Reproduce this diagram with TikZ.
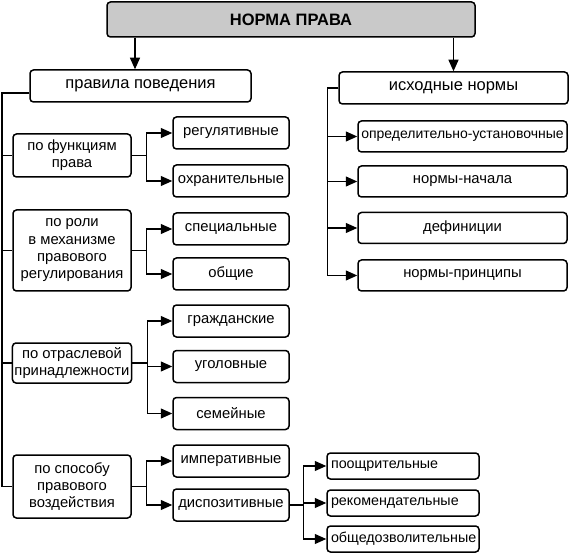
\documentclass[tikz,border=0pt]{standalone}
\usepackage{fontspec}
\setmainfont{Liberation Sans}
\usetikzlibrary{arrows.meta}
\begin{document}
\begin{tikzpicture}[x=1pt,y=-1pt,
  box/.style={draw, line width=1.5pt, rounded corners=3.5pt, inner sep=2pt, align=center,
    font=\fontsize{14.8}{17.3}\selectfont},
  topbox/.style={box, fill=black!21, font=\bfseries\fontsize{16.5}{19}\selectfont,
    minimum width=368pt, minimum height=35pt},
  headbox/.style={box, font=\fontsize{16.5}{19}\selectfont, minimum height=32pt},
  catbox/.style={box, minimum width=118pt},
  leafbox/.style={box, minimum width=116pt, minimum height=32pt},
  rleaf/.style={box, minimum width=209pt, minimum height=31pt},
  bleaf/.style={box, text width=144pt, inner xsep=4pt, align=left, minimum height=26pt,
    font=\fontsize{14.3}{17}\selectfont},
  conn/.style={line width=1.2pt},
  arr/.style={conn, -{Triangle[length=11.5pt,width=10pt]}}
]
\useasboundingbox (0,0) rectangle (570,553);

% top
\node[topbox] (top) at (291,19.5) {НОРМА ПРАВА};
\node[headbox, minimum width=221pt] (pp) at (140.5,86) {правила поведения};
\node[headbox, minimum width=229pt] (ish) at (453.5,88) {исходные нормы};

% left categories
\node[catbox, minimum height=43pt] (f1) at (72,155.5) {по функциям\\права};
\node[catbox, minimum height=81pt] (f2) at (72,250.5) {по роли\\в механизме\\правового\\регулирования};
\node[catbox, minimum height=40pt] (f3) at (72,363) {по отраслевой\\принадлежности};
\node[catbox, minimum height=63pt] (f4) at (72,486.5) {по способу\\правового\\воздействия};

% left leaves
\node[leafbox] (reg) at (231,133) {регулятивные};
\node[leafbox] (ohr) at (231,181) {охранительные};
\node[leafbox] (spec) at (231,229) {специальные};
\node[leafbox] (obsh) at (231,274) {общие};
\node[leafbox] (grazh) at (231,321) {гражданские};
\node[leafbox] (ugol) at (231,366.5) {уголовные};
\node[leafbox] (sem) at (231,413.5) {семейные};
\node[leafbox] (imp) at (231,461) {императивные};
\node[leafbox] (disp) at (231,505) {диспозитивные};

% right leaves
\node[rleaf, inner xsep=0pt, font=\fontsize{14}{17}\selectfont] (r1) at (462.5,136.5) {определительно-установочные};
\node[rleaf] (r2) at (462.5,181.5) {нормы-начала};
\node[rleaf] (r3) at (462.5,228) {дефиниции};
\node[rleaf] (r4) at (462.5,275.5) {нормы-принципы};

% bottom right leaves
\node[bleaf] (b1) at (403,466) {поощрительные};
\node[bleaf] (b2) at (403,503) {рекомендательные};
\node[bleaf] (b3) at (403,539) {общедозволительные};

% top arrows
\coordinate (ax) at (135,0);
\draw[arr] (top.south -| ax) -- (pp.north -| ax);
\draw[arr] (top.south -| ish) -- (ish.north);

% left trunk
\coordinate (L) at (2,0);
\draw[conn] ([yshift=-7pt]pp.west) -| (f4.west -| L) -- (f4.west);
\draw[conn] (f1.west -| L) -- (f1.west);
\draw[conn] (f2.west -| L) -- (f2.west);
\draw[conn] (f3.west -| L) -- (f3.west);

% branches
\draw[arr] (f1.east) -- ++(15,0) |- (reg.west);
\draw[arr] (f1.east) -- ++(15,0) |- (ohr.west);
\draw[arr] (f2.east) -- ++(15,0) |- (spec.west);
\draw[arr] (f2.east) -- ++(15,0) |- (obsh.west);
\draw[arr] (f3.east) -- ++(15,0) |- (grazh.west);
\draw[arr] (f3.east) -- ++(15,0) |- (ugol.west);
\draw[arr] (f3.east) -- ++(15,0) |- (sem.west);
\draw[arr] (f4.east) -- ++(15,0) |- (imp.west);
\draw[arr] (f4.east) -- ++(15,0) |- (disp.west);

% right trunk
\draw[arr] (ish.west) -- ++(-11,0) |- (r1.west);
\draw[arr] (ish.west) -- ++(-11,0) |- (r2.west);
\draw[arr] (ish.west) -- ++(-11,0) |- (r3.west);
\draw[arr] (ish.west) -- ++(-11,0) |- (r4.west);

% dispositive branch
\draw[arr] (disp.east) -- ++(14,0) |- (b1.west);
\draw[arr] (disp.east) -- ++(14,0) |- (b2.west);
\draw[arr] (disp.east) -- ++(14,0) |- (b3.west);
\end{tikzpicture}
\end{document}
